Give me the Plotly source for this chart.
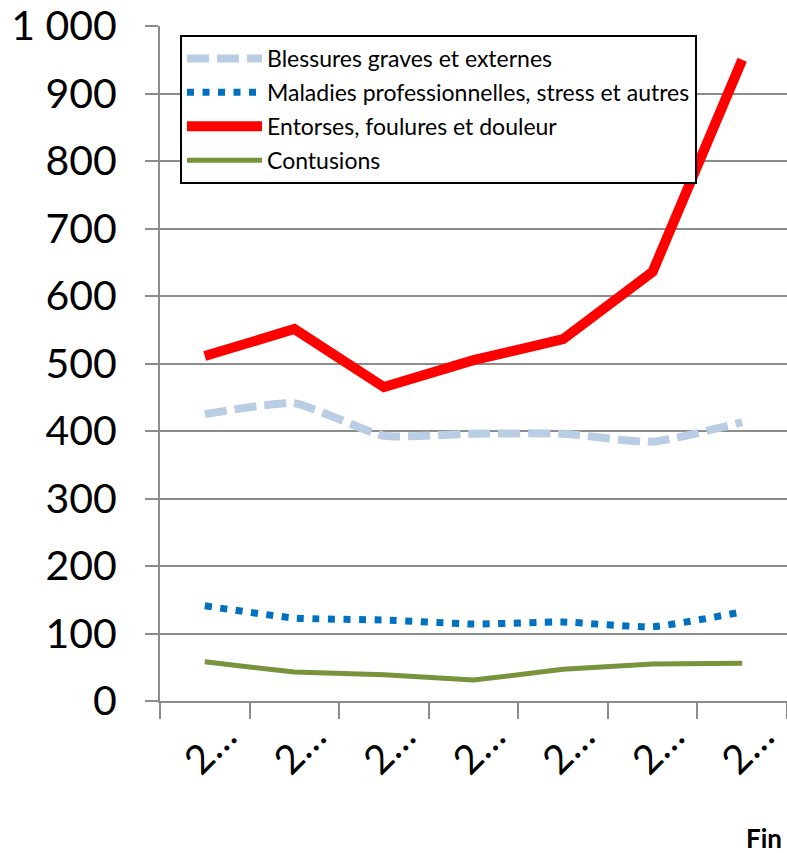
import plotly.graph_objects as go

categories = ["p1", "p2", "p3", "p4", "p5", "p6", "p7"]
x_tick_labels = ["2…", "2…", "2…", "2…", "2…", "2…", "2…"]

blessures = [425, 441, 393, 396, 396, 384, 413]
maladies = [141, 123, 120, 114, 117, 110, 132]
entorses = [511, 551, 465, 505, 536, 636, 950]
contusions = [58, 43, 39, 31, 47, 55, 56]

y_tick_vals = [0, 100, 200, 300, 400, 500, 600, 700, 800, 900, 1000]
y_tick_labels = ["0", "100", "200", "300", "400", "500", "600", "700", "800", "900", "1 000"]

names = ["Blessures graves et externes",
         "Maladies professionnelles, stress et autres",
         "Entorses, foulures et douleur",
         "Contusions"]

FONT = "Lato"
GRID = "#8c8c8c"

W, H = 787, 853
L, T, B = 160, 26, 152
PLOT_W = W - L
PLOT_H = H - T - B
BOTTOM = H - B

fig = go.Figure()
fig.add_trace(go.Scatter(x=categories, y=blessures, name=names[0], mode="lines",
                         legendgroup="g1",
                         line=dict(color="#B9CDE5", width=8, dash="22px,8px", shape="spline", smoothing=0.5)))
fig.add_trace(go.Scatter(x=categories, y=maladies, name=names[1], mode="lines",
                         legendgroup="g2",
                         line=dict(color="#0070C0", width=7, dash="7px,8.5px", shape="spline", smoothing=0.5)))
fig.add_trace(go.Scatter(x=categories, y=entorses, name=names[2], mode="lines",
                         legendgroup="g3",
                         line=dict(color="#FF0000", width=10)))
fig.add_trace(go.Scatter(x=categories, y=contusions, name=names[3], mode="lines",
                         legendgroup="g4",
                         line=dict(color="#77933C", width=5)))

fig.update_layout(
    width=W, height=H,
    margin=dict(l=L, r=0, t=T, b=B),
    paper_bgcolor="white", plot_bgcolor="white",
    font=dict(family=FONT, color="black"),
    showlegend=True,
    legend=dict(x=(180 - L) / PLOT_W, y=(BOTTOM - 35) / PLOT_H, xanchor="left", yanchor="top",
                bgcolor="white", bordercolor="black", borderwidth=2,
                font=dict(family=FONT, size=23, color="black"),
                itemwidth=75, tracegroupgap=1),
    xaxis=dict(type="category", tickmode="array", tickvals=categories, ticktext=x_tick_labels,
               tickson="boundaries", ticks="outside", ticklen=16, tickwidth=2, tickcolor=GRID,
               showgrid=False, showline=True, linecolor=GRID, linewidth=2,
               tickangle=-45, tickfont=dict(family=FONT, size=40, color="black"),
               ticklabelshift=20, ticklabelstandoff=-6,
               range=[-0.5, 6.5], zeroline=False),
    yaxis=dict(range=[0, 1000], tickmode="array", tickvals=y_tick_vals, ticktext=y_tick_labels,
               ticks="outside", ticklen=13, tickwidth=2, tickcolor=GRID,
               showgrid=True, gridcolor=GRID, gridwidth=2,
               showline=True, linecolor=GRID, linewidth=2, zeroline=False,
               tickfont=dict(family=FONT, size=41, color="black"),
               ticklabelstandoff=20, ticklabeloverflow="allow"),
    annotations=[dict(text="<b>Fin</b>", xref="paper", yref="paper",
                      x=(744 - L) / PLOT_W, y=(BOTTOM - 838) / PLOT_H,
                      xanchor="left", yanchor="middle", showarrow=False,
                      font=dict(family=FONT, size=26, color="black"))],
)

fig.write_html("out.html",
               config={"displayModeBar": False},
               post_script="document.body.style.margin='0';document.body.style.overflow='hidden';")
